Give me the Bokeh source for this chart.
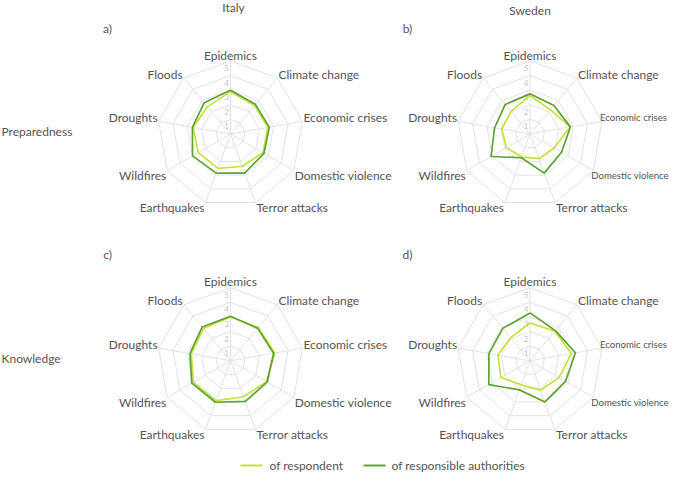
import numpy as np
from bokeh.plotting import figure
from bokeh.models import Range1d
from bokeh.embed import file_html
from bokeh.resources import INLINE
from bokeh.core.properties import value

# ---------------- data ----------------
categories = ["Epidemics", "Climate change", "Economic crises", "Domestic violence",
              "Terror attacks", "Earthquakes", "Wildfires", "Droughts", "Floods"]
countries = ["Italy", "Sweden"]
row_titles = ["Preparedness", "Knowledge"]
panel_tags = ["a)", "b)", "c)", "d)"]
series_names = ["of respondent", "of responsible authorities"]
tick_values = [1, 2, 3, 4, 5]

italy_prep_respondent = [2.9, 2.55, 2.6, 2.57, 2.35, 2.5, 2.55, 2.6, 2.45]
italy_prep_authorities = [3.0, 2.65, 2.7, 2.65, 2.85, 2.85, 3.0, 2.65, 2.8]
sweden_prep_respondent = [2.64, 2.17, 2.78, 1.9, 1.8, 1.68, 1.87, 1.97, 2.02]
sweden_prep_authorities = [2.75, 2.55, 2.81, 2.49, 2.85, 1.73, 3.08, 2.46, 2.64]
italy_know_respondent = [3.0, 2.97, 3.07, 2.85, 2.62, 2.9, 2.93, 2.73, 2.88]
italy_know_authorities = [3.05, 2.9, 3.0, 2.9, 2.96, 3.02, 3.06, 2.82, 3.02]
sweden_know_respondent = [2.59, 2.65, 2.88, 2.29, 2.14, 1.75, 2.3, 2.23, 2.07]
sweden_know_authorities = [3.28, 2.7, 3.16, 2.81, 3.0, 2.12, 3.26, 2.86, 2.9]

panels = [
    (italy_prep_respondent, italy_prep_authorities),
    (sweden_prep_respondent, sweden_prep_authorities),
    (italy_know_respondent, italy_know_authorities),
    (sweden_know_respondent, sweden_know_authorities),
]

# ---------------- style / layout ----------------
LIGHT = "#c8e03c"
DARK = "#5ea335"
GRID = "#e2e2e2"
TEXT = "#555555"
FONT = "Lato"
UNIT = 14.6           # pixels per scale unit
MAXV = 5
W, H = 669, 473
centers = [(230, 133.5), (529.5, 133.5), (230, 360.3), (529.5, 360.3)]

p = figure(width=W, height=H, x_range=Range1d(0, W), y_range=Range1d(H, 0),
           output_backend="svg", toolbar_location=None, min_border=0)
p.axis.visible = False
p.grid.visible = False
p.outline_line_color = None
p.background_fill_color = "white"
p.border_fill_color = "white"

n = len(categories)
angles = np.deg2rad(90 - 360.0 / n * np.arange(n))


def pts(cx, cy, vals):
    v = np.asarray(vals, dtype=float)
    xs = cx + v * UNIT * np.cos(angles)
    ys = cy - v * UNIT * np.sin(angles)
    return list(xs) + [xs[0]], list(ys) + [ys[0]]


def txt(x, y, s, align="center", baseline="middle", size="12px", color=TEXT):
    p.text(x=[x], y=[y], text=[s], text_align=align, text_baseline=baseline,
           text_font=value(FONT), text_font_size=size, text_color=color)


for k, ((cx, cy), (resp, auth)) in enumerate(zip(centers, panels)):
    # rings
    for t in tick_values:
        xs, ys = pts(cx, cy, [t] * n)
        p.line(xs, ys, line_color=GRID, line_width=1)
    # spokes
    ox, oy = pts(cx, cy, [MAXV] * n)
    p.segment(x0=[cx] * n, y0=[cy] * n, x1=ox[:-1], y1=oy[:-1], line_color=GRID, line_width=1)
    # tick labels
    for t in tick_values:
        txt(cx - 4, cy - t * UNIT + 7, str(t), size="8px", color="#c4c4c4")
    # data
    xs, ys = pts(cx, cy, resp)
    p.line(xs, ys, line_color=LIGHT, line_width=1.7)
    xs, ys = pts(cx, cy, auth)
    p.line(xs, ys, line_color=DARK, line_width=1.7)
    # category labels
    for i, cat in enumerate(categories):
        a = angles[i]
        vx = cx + MAXV * UNIT * np.cos(a)
        vy = cy - MAXV * UNIT * np.sin(a)
        c = np.cos(a)
        s = np.sin(a)
        size = "12px"
        if abs(c) < 0.1:
            align = "center"
            lx = vx
        elif c > 0:
            align = "left"
            lx = vx + 1
        else:
            align = "right"
            lx = vx - 1
        if s > 0.95:
            ly = vy - 6
        elif s > 0:
            ly = vy - 4
        else:
            ly = vy + 5
        # right column: the two longest right-hand labels are shrunk to fit the page
        if k in (1, 3) and c > 0.8:
            size = "9.6px"
            lx = vx - 2
        txt(lx, ly, cat, align=align, size=size)

# column titles
txt(centers[0][0] + 3, 7, countries[0])
txt(centers[1][0], 10, countries[1])
# panel tags
tag_pos = [(107, 28), (407, 28), (107, 254), (407, 254)]
for (x, y), tag in zip(tag_pos, panel_tags):
    txt(x, y, tag)
# row titles
txt(1, 131, row_titles[0], align="left")
txt(1, 358, row_titles[1], align="left")

# legend
ly = 465
p.segment(x0=[240], y0=[ly], x1=[262], y1=[ly], line_color=LIGHT, line_width=2)
txt(269, ly, series_names[0], align="left")
p.segment(x0=[363], y0=[ly], x1=[385], y1=[ly], line_color=DARK, line_width=2)
txt(391, ly, series_names[1], align="left")

open("out.html", "w").write(file_html(p, INLINE))
